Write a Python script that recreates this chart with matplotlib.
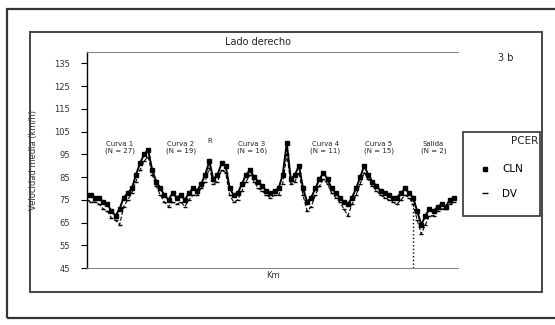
import matplotlib
matplotlib.use("Agg")
import matplotlib.pyplot as plt
from matplotlib.patches import Rectangle
from matplotlib.lines import Line2D

# ---------------- data ----------------
cln = [77, 77, 76, 76, 74, 73, 70, 68, 71, 76,
       78, 80, 86, 91, 95, 97, 88, 83, 80, 77,
       75, 78, 76, 77, 75, 78, 80, 79, 82, 86,
       92, 84, 86, 91, 90, 80, 77, 78, 82, 86,
       88, 85, 83, 81, 79, 78, 79, 80, 86, 100,
       84, 86, 90, 80, 74, 76, 80, 84, 87, 84,
       80, 78, 76, 74, 73, 76, 80, 85, 90, 86,
       83, 81, 79, 78, 77, 76, 76, 78, 80, 78,
       76, 70, 64, 68, 71, 70, 72, 73, 72, 75, 76]
dv = [75, 74, 74, 73, 71, 70, 67, 66, 64, 72,
      75, 78, 83, 88, 92, 94, 86, 81, 77, 74,
      72, 74, 73, 74, 72, 75, 77, 77, 80, 83,
      89, 82, 83, 88, 87, 77, 74, 75, 79, 83,
      86, 83, 80, 79, 77, 76, 77, 77, 82, 95,
      82, 83, 87, 77, 70, 72, 77, 81, 84, 82,
      78, 76, 74, 71, 68, 73, 77, 82, 87, 84,
      81, 79, 77, 76, 75, 74, 73, 75, 77, 76,
      73, 66, 60, 64, 68, 68, 70, 71, 71, 73, 74]
yticks = [45, 55, 65, 75, 85, 95, 105, 115, 125, 135]
sections = ["Curva 1\n(N = 27)", "Curva 2\n(N = 19)", "R", "Curva 3\n(N = 16)",
            "Curva 4\n(N = 11)", "Curva 5\n(N = 15)", "Salida\n(N = 2)"]
section_x = [8, 23, 30, 40.5, 58.5, 71.5, 85]
section_y = [98, 98, 101, 98, 98, 98, 98]
split_x = 80

# ---------------- figure ----------------
W, H = 555, 325
fig = plt.figure(figsize=(W / 100, H / 100), dpi=100)

def frac(x0, y0, x1, y1):
    return (x0 / W, 1 - y1 / H, (x1 - x0) / W, (y1 - y0) / H)

# outer frame
fig.patches.append(Rectangle((7 / W, 1 - 318 / H), (560 - 7) / W, (318 - 9) / H,
                             transform=fig.transFigure, fill=False,
                             edgecolor="#333333", linewidth=1.6))
# inner frame
fig.patches.append(Rectangle((30 / W, 1 - 292 / H), (542 - 30) / W, (292 - 32) / H,
                             transform=fig.transFigure, fill=False,
                             edgecolor="#444444", linewidth=1.4))

ax = fig.add_axes(frac(87, 52, 458, 268))
x = list(range(len(cln)))
ax.plot(x, cln, color="black", linewidth=1.4, marker="s", markersize=2.5,
        markerfacecolor="black", label="CLN")
ax.plot(x, dv, color="black", linewidth=0.8, linestyle="--", marker="_",
        markersize=3, label="DV")
ax.vlines(split_x, 45, 75, colors="black", linestyles=":", linewidth=1.0)

for t, xx, yy in zip(sections, section_x, section_y):
    ax.text(xx, yy, t, ha="center", va="center", fontsize=5, color="#222222",
            linespacing=1.1)

ax.set_xlim(0, 91)
ax.set_ylim(45, 140)
ax.set_yticks(yticks)
ax.set_yticklabels([str(v) for v in yticks], fontsize=6, color="#333333")
ax.set_xticks([])
ax.tick_params(axis="y", length=4, width=0.8, direction="out", pad=8)
ax.spines["right"].set_visible(False)
ax.spines["top"].set_color("#888888")
ax.spines["bottom"].set_color("#888888")
ax.spines["left"].set_color("black")
ax.spines["left"].set_linewidth(1.0)
ax.set_xlabel("Km", fontsize=6, labelpad=2, color="#333333")
ax.set_ylabel("Velocidad media (km/h)", fontsize=6, color="#333333", labelpad=12)

fig.text(258 / W, 1 - 42 / H, "Lado derecho", ha="center", va="center",
         fontsize=7, color="#222222")
fig.text(506 / W, 1 - 58 / H, "3 b", ha="center", va="center",
         fontsize=7, color="#222222")

# legend box drawn to match the reference's proportions
lx0, ly0, lx1, ly1 = 463, 132, 540, 216
fig.patches.append(Rectangle((lx0 / W, 1 - ly1 / H), (lx1 - lx0) / W, (ly1 - ly0) / H,
                             transform=fig.transFigure, fill=True, facecolor="white",
                             edgecolor="#333333", linewidth=1.2, zorder=5))
fig.text(538 / W, 1 - 141 / H, "PCER", ha="right", va="center", fontsize=7.5,
         color="#222222", zorder=6)
handles = [Line2D([], [], color="black", marker="s", linestyle="none", markersize=2.5),
           Line2D([], [], color="black", marker="_", linestyle="none", markersize=4)]
leg = fig.legend(handles, ["CLN", "DV"], loc="upper left",
                 bbox_to_anchor=(470 / W, 1 - 155 / H), frameon=False,
                 fontsize=7.5, handlelength=1.0, handletextpad=1.2,
                 labelspacing=1.4)
leg.set_zorder(6)

fig.savefig("out.png", dpi=100)
